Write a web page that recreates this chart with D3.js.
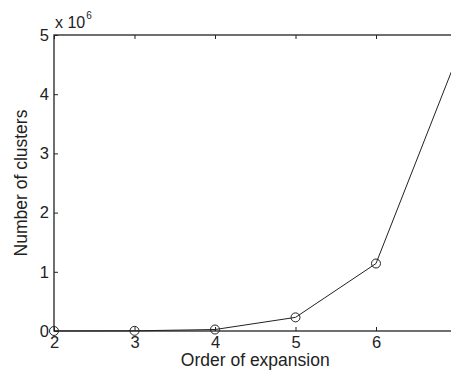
<!DOCTYPE html>
<html>
<head>
<meta charset="utf-8">
<script src="https://cdn.jsdelivr.net/npm/d3@7"></script>
<style>
body { margin: 0; background: #fff; overflow: hidden; }
svg { display: block; font-family: "Liberation Sans", Arial, sans-serif; }
.tick text { font-size: 16.5px; fill: #222; }
</style>
</head>
<body>
<div id="chart"></div>
<script>
// orders and number of clusters (x 10^6)
var orders = [2, 3, 4, 5, 6, 7];
var clusters = [0.0005, 0.003, 0.025, 0.23, 1.14, 4.6];
var xTicks = [2, 3, 4, 5, 6];
var yTicks = [0, 1, 2, 3, 4, 5];

drawChart();

function drawChart() {
    var W = 451, H = 371;
    var padL = 54, padT = 35, padB = 331, padR = 456.5;

    var svg = d3.select("#chart").append("svg")
        .attr("width", W)
        .attr("height", H);

    var x = d3.scaleLinear().domain([2, 7]).range([padL, padR]);
    var y = d3.scaleLinear().domain([0, 5]).range([padB, padT]);

    // box
    svg.append("rect")
        .attr("x", padL).attr("y", padT)
        .attr("width", padR - padL).attr("height", padB - padT)
        .attr("fill", "none").attr("stroke", "#222").attr("stroke-width", 1.3);

    var tl = 4;
    // bottom axis
    var gx = svg.append("g").attr("transform", "translate(0," + padB + ")")
        .call(d3.axisBottom(x).tickValues(xTicks).tickSizeInner(-tl).tickSizeOuter(0)
            .tickPadding(5).tickFormat(d3.format("d")));
    gx.select(".domain").remove();
    gx.selectAll(".tick line").attr("stroke", "#222");

    // top ticks
    var gxt = svg.append("g").attr("transform", "translate(0," + padT + ")")
        .call(d3.axisTop(x).tickValues(xTicks).tickSizeInner(-tl).tickSizeOuter(0).tickFormat(""));
    gxt.select(".domain").remove();
    gxt.selectAll(".tick line").attr("stroke", "#222");

    // left axis
    var gy = svg.append("g").attr("transform", "translate(" + padL + ",0)")
        .call(d3.axisLeft(y).tickValues(yTicks).tickSizeInner(-tl).tickSizeOuter(0)
            .tickPadding(5).tickFormat(d3.format("d")));
    gy.select(".domain").remove();
    gy.selectAll(".tick line").attr("stroke", "#222");

    // exponent label
    var ex = svg.append("text")
        .attr("x", padL + 1).attr("y", 28)
        .attr("font-size", 16).attr("fill", "#222");
    ex.append("tspan").text("x 10");
    ex.append("tspan").attr("font-size", 10).attr("dx", 1).attr("dy", -9).text("6");

    // data line
    var line = d3.line()
        .x(function (d, i) { return x(orders[i]); })
        .y(function (d) { return y(d); });
    svg.append("path")
        .datum(clusters)
        .attr("d", line)
        .attr("fill", "none")
        .attr("stroke", "#222")
        .attr("stroke-width", 1);

    svg.selectAll("circle.pt")
        .data(clusters)
        .enter().append("circle")
        .attr("class", "pt")
        .attr("cx", function (d, i) { return x(orders[i]); })
        .attr("cy", function (d) { return y(d); })
        .attr("r", 4.5)
        .attr("fill", "none")
        .attr("stroke", "#222")
        .attr("stroke-width", 1);

    // axis labels
    svg.append("text")
        .attr("x", (padL + padR) / 2).attr("y", 366)
        .attr("text-anchor", "middle")
        .attr("font-size", 17.5).attr("fill", "#222")
        .text("Order of expansion");

    svg.append("text")
        .attr("transform", "translate(27," + (padT + padB) / 2 + ") rotate(-90)")
        .attr("text-anchor", "middle")
        .attr("font-size", 17.5).attr("fill", "#222")
        .text("Number of clusters");
}
</script>
</body>
</html>
